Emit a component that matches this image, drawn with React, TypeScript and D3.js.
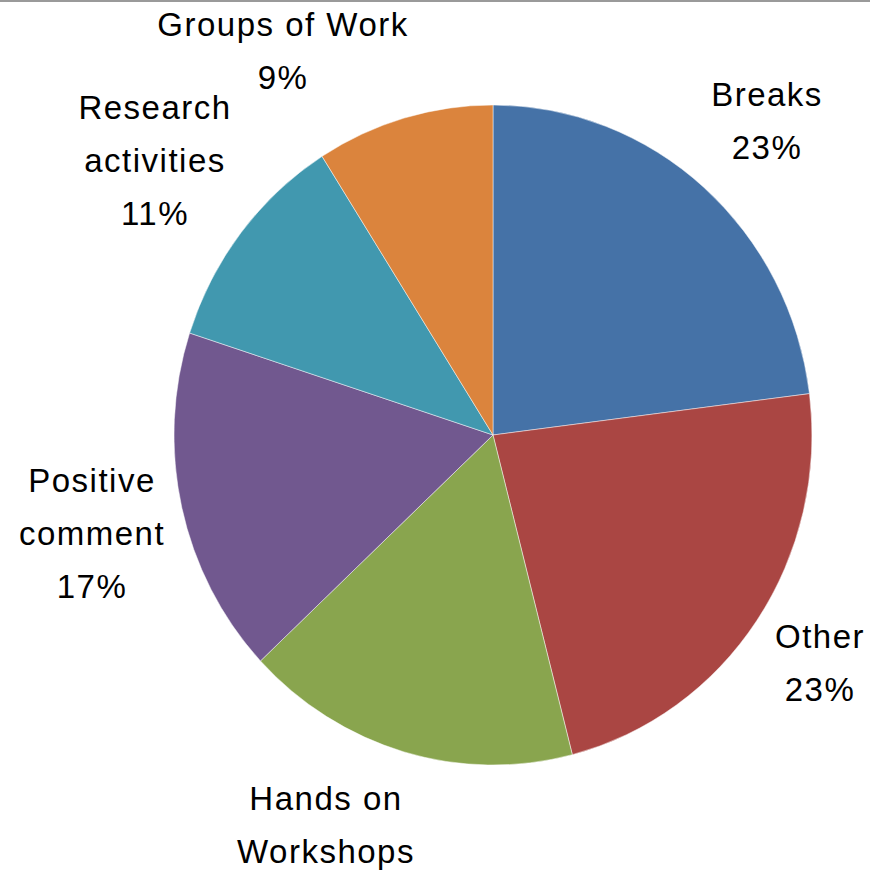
import * as d3 from "d3";
import { useEffect, useRef } from "react";

const categories = [
  "Breaks",
  "Other",
  "Hands on Workshops",
  "Positive comment",
  "Research activities",
  "Groups of Work",
];
const values = [23, 23, 17, 17, 11, 9];
const colors = ["#4572A7", "#AA4643", "#89A54E", "#71588F", "#4198AF", "#DB843D"];
// label lines per category (as wrapped in the chart)
const labelLines = [
  ["Breaks"],
  ["Other"],
  ["Hands on", "Workshops"],
  ["Positive", "comment"],
  ["Research", "activities"],
  ["Groups of Work"],
];
// label anchor (centre x, first baseline y)
const labelPos: [number, number][] = [
  [767, 106],
  [820, 648],
  [326, 810],
  [92, 492],
  [155, 119],
  [283, 36],
];

export default function App() {
  const ref = useRef<SVGSVGElement>(null);

  useEffect(() => {
    const svg = d3.select(ref.current);
    const width = 870;
    const height = 872;
    const cx = 493;
    const cy = 435;
    const r = 330;
    const sx = 319 / 330;

    svg.selectAll("*").remove();

    svg
      .append("line")
      .attr("x1", 0)
      .attr("x2", width)
      .attr("y1", 1)
      .attr("y2", 1)
      .attr("stroke", "#9a9a9a")
      .attr("stroke-width", 2);

    const pie = d3
      .pie<number>()
      .sort(null)
      .value((d) => d);
    const arc = d3.arc<d3.PieArcDatum<number>>().innerRadius(0).outerRadius(r);

    svg
      .append("g")
      .attr("transform", `translate(${cx},${cy}) scale(${sx},1)`)
      .selectAll("path")
      .data(pie(values))
      .join("path")
      .attr("d", arc)
      .attr("fill", (_, i) => colors[i])
      .attr("stroke", "#ffffff")
      .attr("stroke-opacity", 0.6)
      .attr("stroke-width", 0.8);

    const lineH = 53;
    const total = d3.sum(values);
    const labels = svg
      .append("g")
      .attr("font-family", "'Liberation Sans', Arial, sans-serif")
      .attr("font-size", 33)
      .attr("letter-spacing", 1.5)
      .attr("fill", "#000")
      .attr("text-anchor", "middle");

    categories.forEach((c, i) => {
      const lines = [...labelLines[i], `${Math.round((values[i] / total) * 100)}%`];
      const [lx, ly] = labelPos[i];
      lines.forEach((l, j) => {
        const y = ly + j * lineH;
        // the chart is cropped at the bottom: lines past the edge are not shown
        if (y - 24 > height) return;
        labels
          .append("text")
          .attr("data-cat", c)
          .attr("x", lx)
          .attr("y", y)
          .text(l);
      });
    });

    svg.attr("viewBox", `0 0 ${width} ${height}`);
  }, []);

  return (
    <div style={{ position: "absolute", left: 0, top: 0, background: "#fff" }}>
      <svg ref={ref} width={870} height={872} style={{ display: "block" }} />
    </div>
  );
}
